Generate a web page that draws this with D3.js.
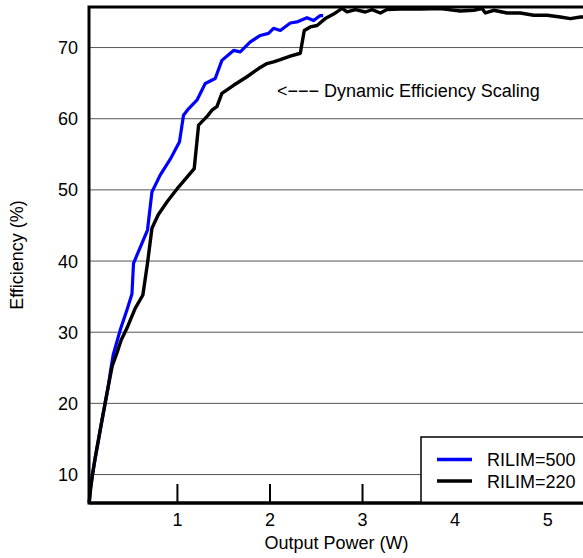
<!DOCTYPE html>
<html><head><meta charset="utf-8">
<script src="https://cdn.jsdelivr.net/npm/d3@7"></script>
<style>
html,body{margin:0;padding:0;background:#fff;overflow:hidden}
svg text{font-family:"Liberation Sans",Arial,Helvetica,sans-serif;fill:#000}
</style></head>
<body>
<svg id="chart" width="583" height="558"></svg>
<script>
// ---- data ----
const seriesNames = ["RILIM=500", "RILIM=220"];
const seriesColors = ["#0000ff", "#000000"];

const blueX = [0.052,0.068,0.0876,0.117,0.152,0.187,0.225,0.261,0.284,0.311,0.387,0.459,0.514,0.531,0.682,0.730,0.819,0.928,1.028,1.071,1.125,1.216,1.306,1.414,1.486,1.612,1.684,1.793,1.901,1.990,2.044,2.117,2.225,2.297,2.405,2.477,2.549,2.58];
const blueY = [6.03,8.13,10.0,12.34,14.87,17.4,20.07,22.6,24.7,26.8,30.3,33.1,35.37,39.68,44.36,49.7,52.07,54.32,56.75,60.5,61.4,62.6,64.95,65.65,68.2,69.6,69.4,70.8,71.7,72.0,72.7,72.4,73.45,73.6,74.2,73.8,74.5,74.5];

const blackX = [0.052,0.068,0.0876,0.117,0.152,0.187,0.225,0.261,0.301,0.351,0.398,0.459,0.549,0.632,0.682,0.730,0.798,0.892,1.017,1.10,1.187,1.234,1.331,1.378,1.432,1.486,1.612,1.757,1.882,1.973,2.044,2.117,2.225,2.333,2.376,2.441,2.514,2.603,2.693,2.784,2.838,2.928,3.036,3.108,3.198,3.27,3.414,3.63,3.846,4.062,4.206,4.297,4.333,4.423,4.568,4.711,4.855,5.0,5.143,5.251,5.36,5.47];
const blackY = [6.03,8.13,10.0,12.34,14.87,17.4,20.07,22.6,25.26,27.04,28.9,30.55,33.36,35.23,39.68,44.6,46.5,48.3,50.4,51.65,53.0,59.1,60.4,61.2,61.7,63.55,64.7,65.9,67.05,67.75,68.0,68.3,68.8,69.2,72.4,72.9,73.1,74.07,74.7,75.5,75.0,75.34,75.0,75.34,74.86,75.34,75.4,75.4,75.48,75.14,75.24,75.48,74.86,75.24,74.86,74.86,74.54,74.54,74.3,74.07,74.3,74.25];

const xTicks = [1, 2, 3, 4, 5];
const yTicks = [10, 20, 30, 40, 50, 60, 70];
const xTitle = "Output Power (W)";
const yTitle = "Efficiency (%)";
const annotation = "<\u2212\u2212\u2212 Dynamic Efficiency Scaling";

// ---- layout ----
const L = 89, R = 586, T = 7, B = 503;
const FS = 18;
const svg = d3.select("#chart");
const x = d3.scaleLinear().domain([0.05, 5.42]).range([L, R]);
const y = d3.scaleLinear().domain([6, 75.7]).range([B, T]);

// gridlines
svg.append("g").selectAll("line").data(yTicks).join("line")
  .attr("x1", L).attr("x2", d => d === 10 ? 421 : R)
  .attr("y1", d => y(d)).attr("y2", d => y(d))
  .attr("stroke", "#555").attr("stroke-width", 1);

// y tick labels
svg.append("g").selectAll("text").data(yTicks).join("text")
  .attr("x", 78).attr("y", d => y(d) + 6.5)
  .attr("text-anchor", "end").attr("font-size", FS).text(d => d);

// x ticks (inward) + labels
const xAxis = d3.axisBottom(x).tickValues(xTicks).tickFormat(d3.format("d")).tickSize(0).tickPadding(0);
const gx = svg.append("g").attr("transform", `translate(0,${B})`).call(xAxis);
gx.select(".domain").remove();
gx.selectAll(".tick text").attr("y", 23).attr("dy", 0).attr("font-size", FS)
  .attr("font-family", '"Liberation Sans",Arial,sans-serif').attr("fill", "#000");
gx.selectAll(".tick").append("line").attr("y1", 0).attr("y2", -19)
  .attr("stroke", "#000").attr("stroke-width", 2);

// series lines
const line = d3.line().x(d => x(d[0])).y(d => y(d[1]));
const seriesData = [
  d3.zip(blueX, blueY),
  d3.zip(blackX, blackY)
];
svg.append("path").datum(seriesData[0]).attr("d", line)
  .attr("fill", "none").attr("stroke", seriesColors[0]).attr("stroke-width", 3.2)
  .attr("stroke-linejoin", "round");
svg.append("path").datum(seriesData[1]).attr("d", line)
  .attr("fill", "none").attr("stroke", seriesColors[1]).attr("stroke-width", 3.4)
  .attr("stroke-linejoin", "round");

// frame
svg.append("rect").attr("x", L).attr("y", T).attr("width", R - L).attr("height", B - T)
  .attr("fill", "none").attr("stroke", "#000").attr("stroke-width", 3);

// annotation
svg.append("text").attr("x", 277).attr("y", 97).attr("font-size", FS).text(annotation);

// legend
const lg = svg.append("g");
lg.append("rect").attr("x", 421).attr("y", 437).attr("width", 200).attr("height", B - 437)
  .attr("fill", "#fff").attr("stroke", "#000").attr("stroke-width", 1.5);
seriesNames.forEach((n, i) => {
  const yy = 459.5 + i * 21.5;
  lg.append("line").attr("x1", 437).attr("x2", 472).attr("y1", yy).attr("y2", yy)
    .attr("stroke", seriesColors[i]).attr("stroke-width", 3.5);
  lg.append("text").attr("x", 487).attr("y", yy + 6.5).attr("font-size", FS).text(n);
});
// bottom axis line over legend
svg.append("line").attr("x1", L).attr("x2", R).attr("y1", B).attr("y2", B)
  .attr("stroke", "#000").attr("stroke-width", 3);

// axis titles
svg.append("text").attr("x", (L + 584) / 2).attr("y", 549).attr("text-anchor", "middle")
  .attr("font-size", FS).text(xTitle);
svg.append("text").attr("transform", `translate(23,${(T + B) / 2}) rotate(-90)`)
  .attr("text-anchor", "middle").attr("font-size", FS).text(yTitle);
</script>
</body></html>
